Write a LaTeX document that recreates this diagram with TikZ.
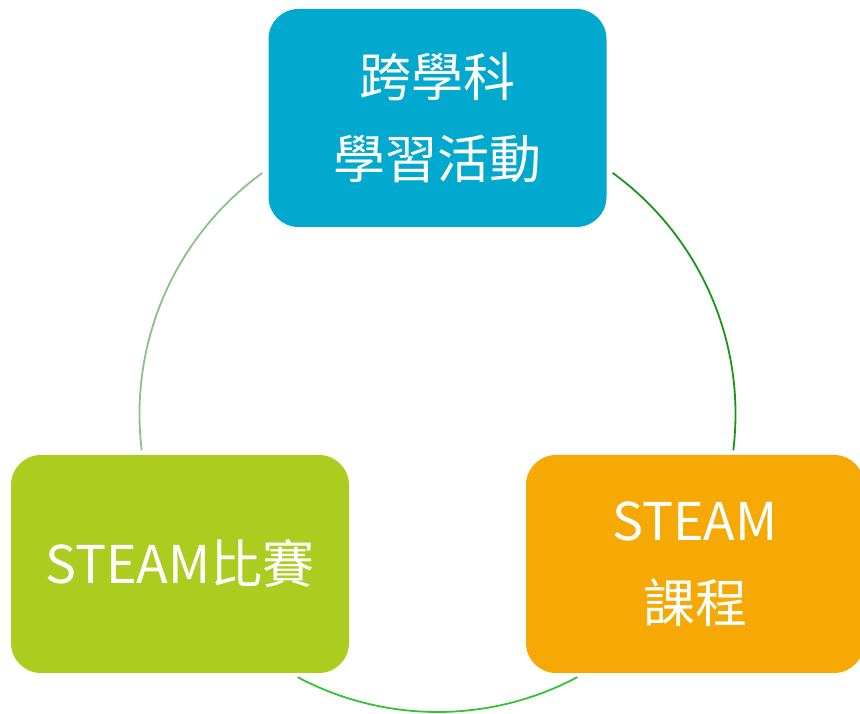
\documentclass[tikz,border=0pt]{standalone}
\usepackage{fontspec}
\newfontfamily\cjk{Noto Sans CJK TC}
\definecolor{topblue}{HTML}{02A9CE}
\definecolor{limegreen}{HTML}{ACCD1F}
\definecolor{orangebox}{HTML}{F6A904}
\definecolor{arcleft}{HTML}{8CC08C}
\definecolor{arcright}{HTML}{17961A}
\definecolor{arcbottom}{HTML}{35C235}
\begin{document}
\begin{tikzpicture}[x=1pt,y=1pt,
  cyclebox/.style={rounded corners=30pt, minimum width=338pt, minimum height=218pt,
    inner sep=0pt, text=white, align=center,
    font=\cjk\fontsize{52}{82}\selectfont},
  cyclearc/.style={line width=1.8pt}]
\useasboundingbox (0,0) rectangle (860,714);
\coordinate (C) at (437.5,300);
\node[cyclebox, fill=topblue] (top) at (437.5,596) {跨學科\\學習活動};
\node[cyclebox, fill=limegreen] (left) at (180,150) {STEAM比賽};
\node[cyclebox, fill=orangebox] (right) at (695,150) {STEAM\\課程};
\draw[cyclearc, arcleft] ([shift={(126:298)}]C) coordinate (la) arc[start angle=126, end angle=187, radius=298] coordinate (lb);
\draw[cyclearc, arcright] ([shift={(-7:298)}]C) coordinate (ra) arc[start angle=-7, end angle=54, radius=298] coordinate (rb);
\draw[cyclearc, arcbottom] ([shift={(-118:298)}]C) coordinate (ba) arc[start angle=-118, end angle=-62, radius=298] coordinate (bb);
\end{tikzpicture}
\end{document}
